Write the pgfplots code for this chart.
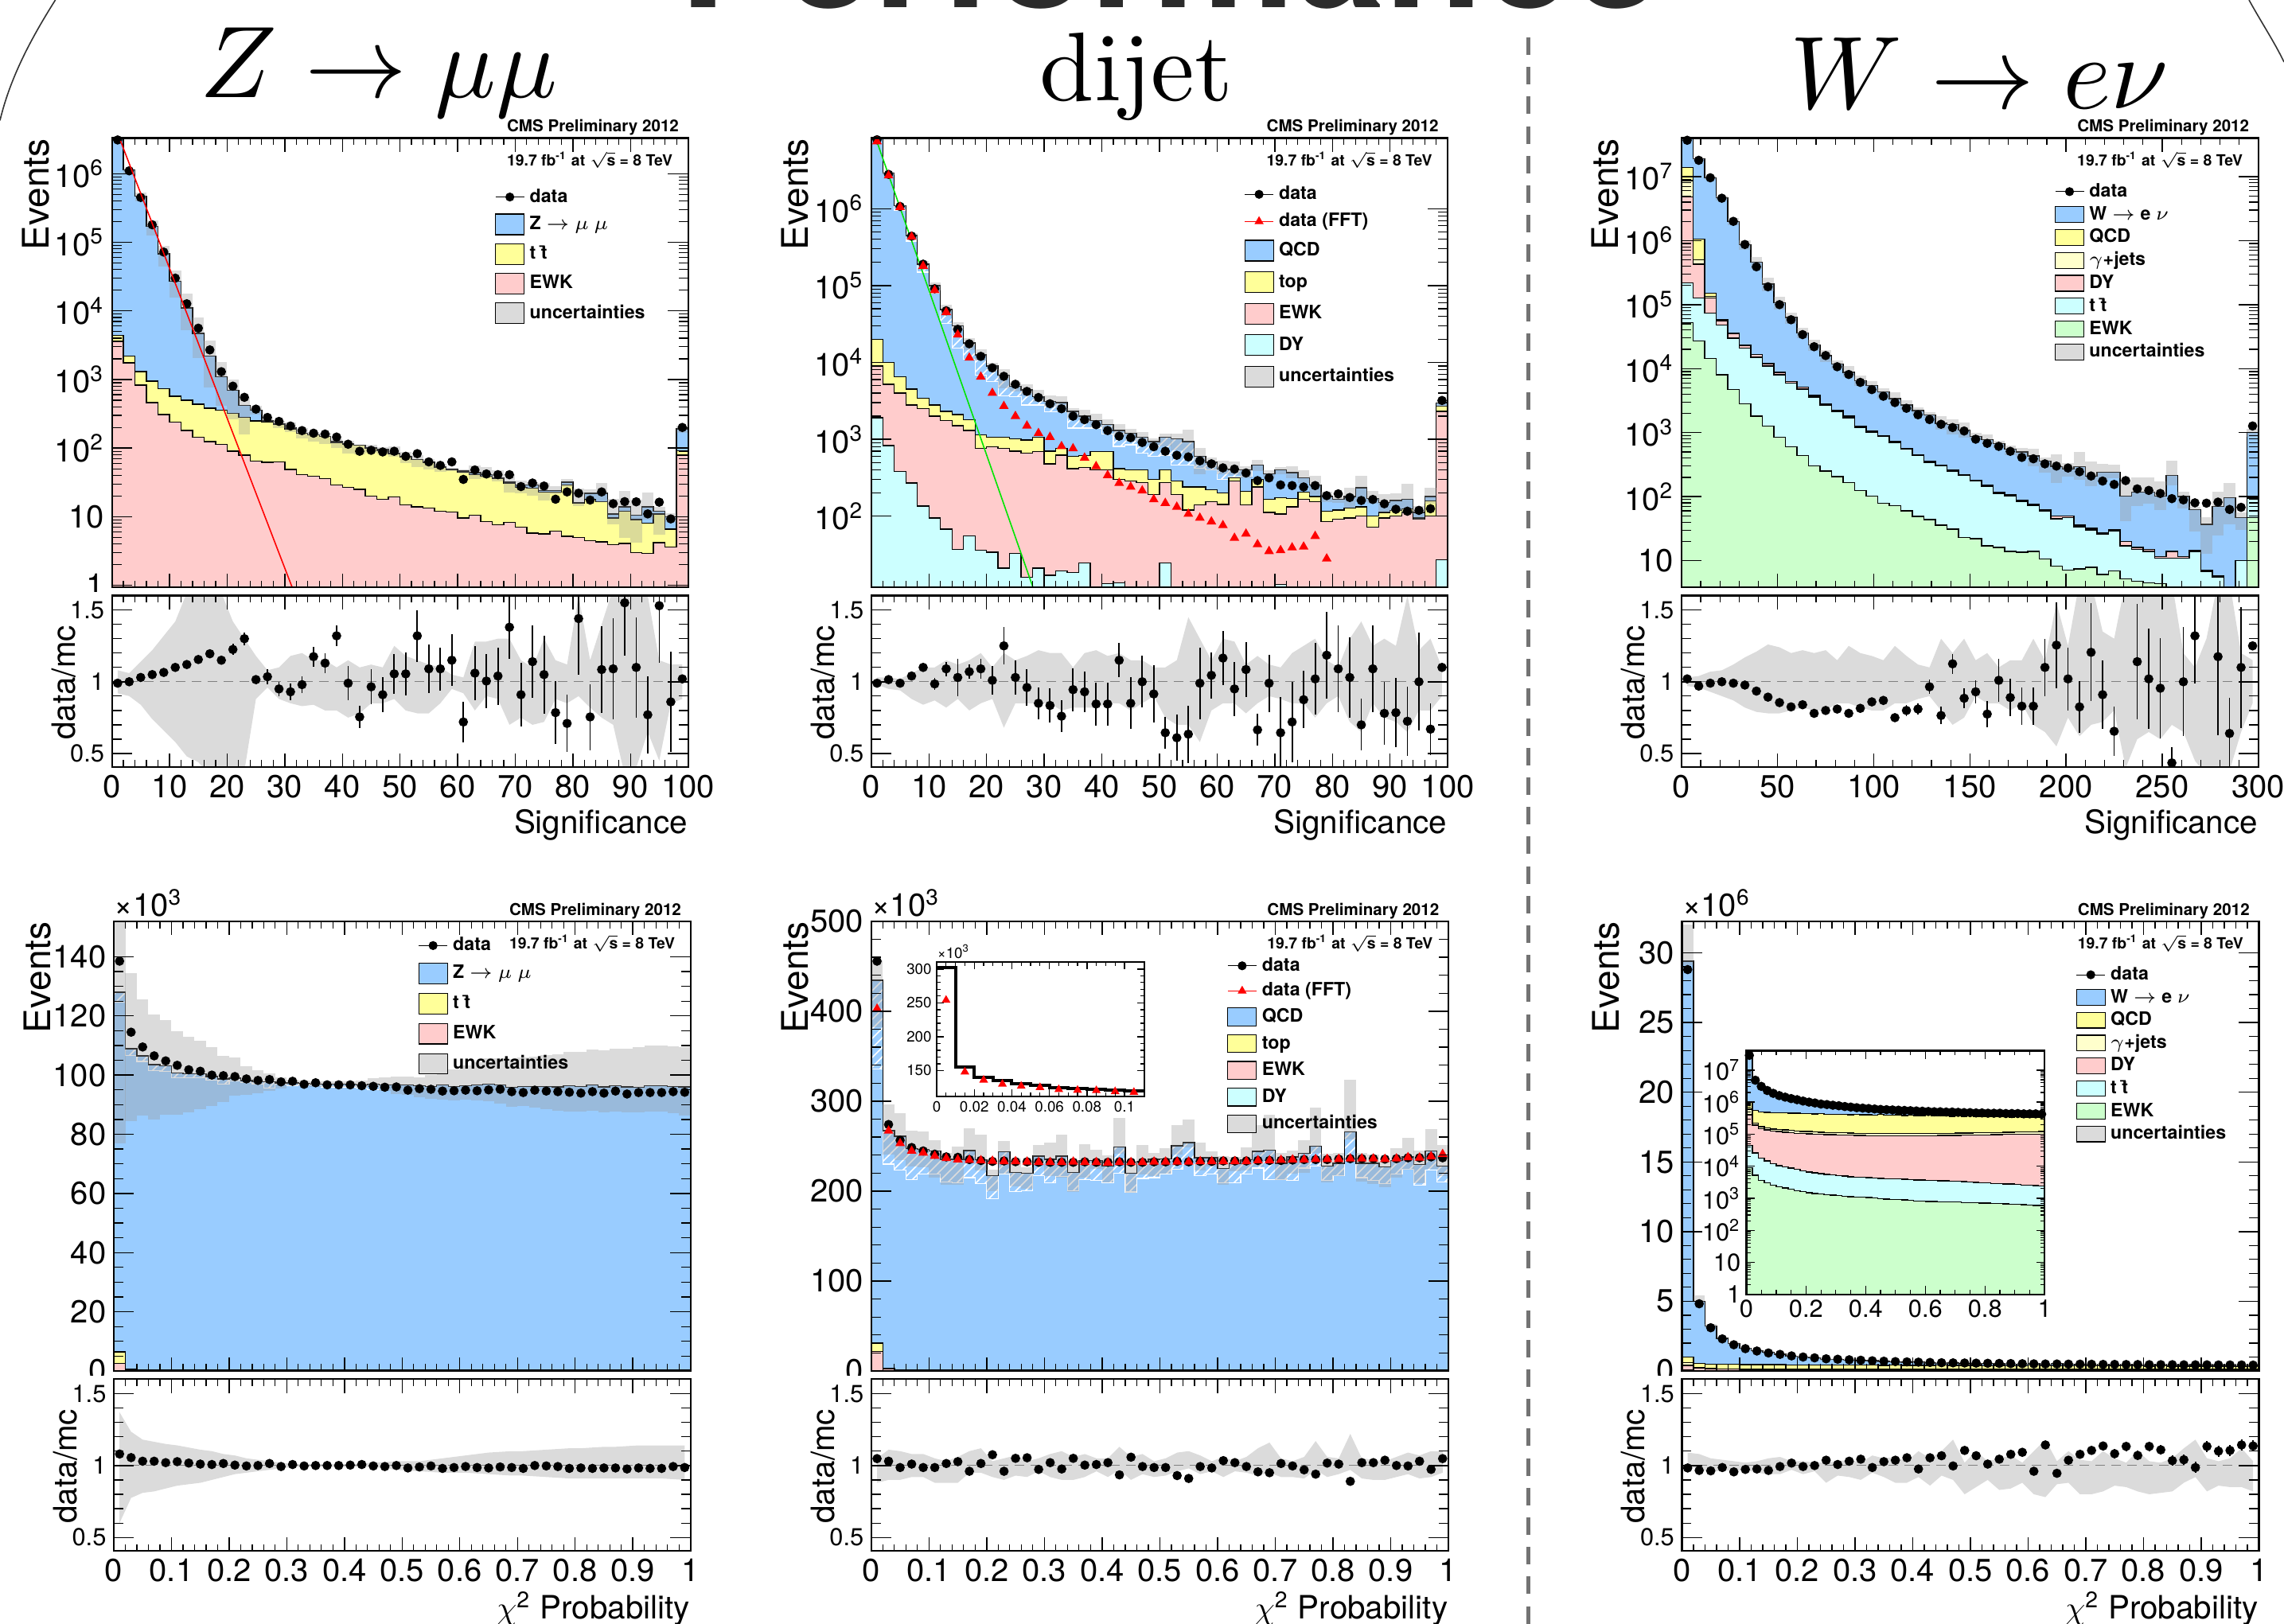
\documentclass[border=0pt]{standalone}
\usepackage{fontspec}
\usepackage{pgfplots}
\usepackage{pgfplotstable}
\pgfplotsset{compat=1.18}
\usetikzlibrary{patterns}
\newfontfamily\hv{TeX Gyre Heros}
\newcommand\tk{\hv\fontsize{10}{10.5}\selectfont}
\newcommand\lab{\hv\fontsize{10.1}{11}\selectfont}
\newcommand\evt{\hv\fontsize{11.5}{12}\selectfont}
\newcommand\leg{\hv\bfseries\fontsize{5.8}{6.5}\selectfont}
\newcommand\cms{\hv\bfseries\fontsize{5.15}{5.7}\selectfont}
\newcommand\lumi{\hv\bfseries\fontsize{4.85}{5.4}\selectfont}
\newcommand\sm{\hv\fontsize{4.7}{5.2}\selectfont}
\newcommand\smm{\hv\fontsize{7.7}{8.2}\selectfont}
\definecolor{cB}{HTML}{99CCFF}\definecolor{cY}{HTML}{FFFF99}\definecolor{cP}{HTML}{FFCCCC}
\definecolor{cC}{HTML}{CCFFFF}\definecolor{cG}{HTML}{CCFFCC}\definecolor{cL}{HTML}{FFFFCC}
\def\legh{3.25pt}
\pgfplotsset{
 base/.style={scale only axis,anchor=south west,axis on top,enlargelimits=false,clip mode=individual,log origin=infty,
  tick align=inside,xtick pos=both,ytick pos=both,
  axis line style={line width=.55pt},tick style={black,line width=.35pt},
  xtick style={/pgfplots/major tick length=4.3pt,/pgfplots/minor tick length=2.2pt},
  ytick style={/pgfplots/major tick length=6.3pt,/pgfplots/minor tick length=3pt},
  minor tick style={black,line width=.3pt},
  tick label style={font=\tk,inner sep=2.2pt},
  label style={font=\lab},
  scaled ticks=false},
 mainax/.style={base,xticklabels={},
  ylabel={\evt Events},y label style={at={(axis description cs:-0.107,1)},anchor=south east,inner sep=0pt}},
 ratioax/.style={base,ymin=.405,ymax=1.6,ytick={.5,1,1.5},yticklabels={0.5,1,1.5},
  yticklabel style={font=\smm},
  minor ytick={.6,.7,.8,.9,1.1,1.2,1.3,1.4},
  ylabel={data/mc},y label style={at={(axis description cs:-0.062,.83)},anchor=south east,inner sep=0pt},
  x label style={at={(axis description cs:1,-.335)},anchor=east,inner sep=0pt}},
 xsig/.style={xmin=0,xmax=100,xtick={0,10,...,100},minor xtick={2,4,6,8,12,14,16,18,22,24,26,28,32,34,36,38,42,44,46,48,52,54,56,58,62,64,66,68,72,74,76,78,82,84,86,88,92,94,96,98}},
 xsigw/.style={xmin=0,xmax=300,xtick={0,50,...,300},minor xtick={10,20,30,40,60,70,80,90,110,120,130,140,160,170,180,190,210,220,230,240,260,270,280,290}},
 xprob/.style={xmin=0,xmax=1,xtick={0,.1,.2,.3,.4,.5,.6,.7,.8,.9,1},minor xtick={.02,.04,.06,.08,.12,.14,.16,.18,.22,.24,.26,.28,.32,.34,.36,.38,.42,.44,.46,.48,.52,.54,.56,.58,.62,.64,.66,.68,.72,.74,.76,.78,.82,.84,.86,.88,.92,.94,.96,.98}},
 xproblab/.style={xticklabels={0,0.1,0.2,0.3,0.4,0.5,0.6,0.7,0.8,0.9,1}},
 legst/.style={legend cell align=left,legend style={draw=none,fill=none,inner sep=0pt,outer sep=0pt,font=\leg,
   anchor=north west,row sep=#1,nodes={inner ysep=0pt,inner xsep=1.6pt,text height=4.3pt,text depth=1.1pt}}},
 boxleg/.style={legend image code/.code={\draw[##1,line width=.3pt] (0pt,-\legh) rectangle (9pt,\legh);}},
 ptleg/.style={legend image code/.code={\draw[##1,mark repeat=2,mark phase=2] plot coordinates {(0pt,0pt)(4.5pt,0pt)(9pt,0pt)};}},
}
\colorlet{bandc}{black!40}
\colorlet{bandl}{black!14}
\newcommand\hist[3]{\addplot[const plot mark left,fill=#3,draw=black,line width=.35pt,forget plot] table[x=xl,y=#2]{#1} \closedcycle;}
% uncertainty band of the stack: bars as wide as a bin, from mc*lo to mc*hi
\newcommand\mband[2]{%
 \addplot[draw=none,mark=none,forget plot,skip coords between index={50}{51},
  error bars/.cd,y dir=both,y explicit,error mark=none,error bar style={line width=3.63pt,draw=bandc,draw opacity=.35}]
  table[x expr=\thisrow{xl}+#2,y=mc,y error plus expr=\thisrow{mc}*(\thisrow{hi}-1),y error minus expr=\thisrow{mc}*(1-\thisrow{lo})]{#1};}
% white hatch between the stack and its lower edge
\newcommand\hatchb[1]{%
 \addplot[const plot mark left,pattern=north east lines,pattern color=white,draw=none,forget plot] table[x=xl,y=mc]{#1} \closedcycle;
 \addplot[const plot mark left,fill=cB,draw=white,line width=.3pt,forget plot] table[x=xl,y=hat]{#1} \closedcycle;
 \addplot[const plot mark left,draw=black,line width=.35pt,forget plot] table[x=xl,y=mc]{#1};}
\newcommand\dataplot[3]{\addplot[only marks,mark=*,mark size=1.25pt,black,forget plot,skip coords between index={50}{51}] table[x expr=\thisrow{xl}+#2,y=#3]{#1};}
\newcommand\fftplot[3]{\addplot[only marks,mark=triangle*,mark size=1.35pt,red,forget plot,skip coords between index={50}{51}] table[x expr=\thisrow{xl}+#2,y=#3]{#1};}
\newcommand\ratioplots[3]{%
 \addplot[stack plots=y,draw=none,forget plot,skip coords between index={50}{51}] table[x expr=\thisrow{xl}+#2,y=lo]{#1};
 \addplot[stack plots=y,fill=bandc,fill opacity=.35,draw=none,forget plot,skip coords between index={50}{51}] table[x expr=\thisrow{xl}+#2,y expr=\thisrow{hi}-\thisrow{lo}]{#1} \closedcycle;
 \addplot[gray,densely dashed,line width=.3pt,forget plot] coordinates {(0,1)(#3,1)};
 \addplot[only marks,mark=*,mark size=1.25pt,black,forget plot,skip coords between index={50}{51},
   error bars/.cd,y dir=both,y explicit,error mark=none,error bar style={line width=.45pt}] table[x expr=\thisrow{xl}+#2,y=r,y error=e]{#1};}
\newcommand\cmslabel{%
 \node[anchor=south east,inner sep=0pt,font=\cms] at (rel axis cs:.985,1.004) {CMS Preliminary 2012};
 \node[anchor=east,inner sep=0pt,font=\lumi] at (rel axis cs:.974,.951) {19.7 fb\textsuperscript{-1} at $\sqrt{\mbox{s}}$ = 8 TeV};}

\pgfplotstableread{
xl d mc t ew r e hi lo
0 3.1e6 3.5e6 4.4e3 3.6e3 .99 .005 1.08 .92
2 1.1e6 1.13e6 2.2e3 1.75e3 1.0 .005 1.06 .90
4 4.5e5 4.7e5 1.3e3 830 1.03 .005 1.14 .84
6 1.8e5 1.7e5 950 460 1.05 .005 1.22 .74
8 7.2e4 6.8e4 730 310 1.065 .01 1.32 .66
10 3e4 2.7e4 570 240 1.10 .01 1.42 .58
12 1.27e4 1.1e4 500 180 1.12 .01 1.62 .48
14 5.6e3 4.7e3 435 145 1.155 .015 1.7 .44
16 2.7e3 2.2e3 380 125 1.195 .02 1.7 .35
18 1.3e3 1.1e3 360 113 1.15 .03 1.62 .38
20 800 700 320 90 1.225 .04 1.42 .38
22 550 420 280 79 1.30 .045 1.3 .38
24 370 355 250 65 1.015 .03 1.18 .88
26 280 250 240 62 1.035 .05 1.08 .96
28 245 225 225 63 .95 .05 1.1 .88
30 210 200 190 49 .93 .06 1.18 .85
32 180 165 165 41 .98 .06 1.2 .83
34 165 150 155 39 1.175 .07 1.15 .84
36 160 145 148 36 1.13 .07 1.15 .8
38 145 125 120 29 1.32 .07 1.1 .8
40 114 110 115 27 .99 .12 1.15 .75
42 90 103 110 25 .755 .08 1.1 .78
44 93 100 100 20 .965 .12 1.12 .85
46 88 95 91 18 .91 .12 1.1 .85
48 90 85 83 19.5 1.055 .14 1.25 .88
50 76 75 75 15 1.055 .15 1.18 .8
52 83 68 68 14 1.32 .18 1.15 .78
54 63 62 62 13.3 1.09 .17 1.12 .78
56 56 53 53 12 1.09 .15 1.1 .85
58 63 49 49 11.8 1.15 .18 1.05 .95
60 35 47 45 9.6 .72 .14 1.03 .92
62 48 44 41 10.5 1.06 .19 1.28 .8
64 42 41 39 8.5 1.005 .19 1.28 .9
66 41 37 36 7.6 1.04 .2 1.3 .88
68 41 32 31 8.3 1.38 .22 1.3 .7
70 27.5 29 27 7 .91 .22 1.15 .75
72 31 29 26 5.8 1.14 .25 1.1 .7
74 28 24 23 5.6 1.05 .27 1.3 .72
76 18 24 23 6.2 .785 .22 1.15 .88
78 23 32 29 5.2 .71 .2 1.12 .85
80 22 16 16 5 1.44 .39 1.6 .9
82 17.5 22 18 4.5 .755 .23 1.15 .82
84 23 22 16.5 4.3 1.085 .3 1.4 .75
86 15.5 11 9.6 3.9 1.09 .35 1.65 .7
88 16.6 14 12 4.1 1.55 .37 1.7 .35
90 16.5 10.5 9.1 3 1.10 .35 1.7 .4
92 11 14 8 2.9 .77 .27 1.6 .65
94 16.3 12 11 4.2 1.53 .4 1.15 .45
96 9.3 10 6.6 3.6 .86 .35 1.12 .85
98 200 190 91 79 1.02 .01 1.12 .88
100 200 190 91 79 1.02 .01 1.12 .88
}\tA

\pgfplotstableread{
xl d f mc hat t ew dy r e hi lo
0 7.9e6 7.5e6 9e6 9e6 2e4 9e3 1.9e3 .99 .005 1.03 .98
2 2.8e6 2.7e6 2.9e6 2.9e6 1e4 5.2e3 830 1.015 .01 1.03 .95
4 1.07e6 1.05e6 1.1e6 9.6e5 6.5e3 4e3 380 .99 .01 1.02 .94
6 4.4e5 4.3e5 4.5e5 3.8e5 4.5e3 2.8e3 270 1.04 .01 1.06 .88
8 1.9e5 1.8e5 1.9e5 1.5e5 3.4e3 2.5e3 135 1.10 .02 1.1 .84
10 9.1e4 8.7e4 1e5 8e4 2.8e3 2e3 95 .985 .04 1.1 .87
12 4.7e4 4.5e4 4.9e4 3.2e4 2.3e3 1.75e3 68 1.09 .05 1.15 .82
14 2.7e4 2.3e4 3e4 1.55e4 2.1e3 1.5e3 37 1.03 .13 1.12 .88
16 1.75e4 1.15e4 1.8e4 1.1e4 1.8e3 1.3e3 55 1.07 .05 1.15 .8
18 1.2e4 6.5e3 1.25e4 6.8e3 1.15e3 760 36 1.09 .07 1.2 .85
20 8.5e3 4e3 9e3 5.7e3 1.07e3 800 34 1.01 .1 1.1 .88
22 6.6e3 2.7e3 6.8e3 3.7e3 1.07e3 760 21 1.25 .13 1.2 .68
24 5.2e3 2e3 4.9e3 3.6e3 1.02e3 700 33 1.03 .12 1.15 .85
26 4.2e3 1.5e3 4.4e3 2.8e3 980 660 16 .96 .13 1.18 .85
28 3.5e3 1.2e3 3.6e3 2.8e3 1.07e3 690 21 .85 .11 1.22 .85
30 2.9e3 1.07e3 3.1e3 2.3e3 700 480 17 .835 .12 1.2 .85
32 2.5e3 810 3e3 2.3e3 760 620 19.5 .76 .11 1.2 .8
34 2e3 760 2.3e3 1.4e3 600 415 18.5 .945 .15 1.1 .82
36 1.8e3 575 2e3 1.4e3 615 430 24.5 .93 .14 1.2 .82
38 1.55e3 445 1.75e3 1.4e3 690 400 5 .845 .15 1.22 .82
40 1.3e3 340 1.55e3 1.17e3 690 400 13.2 .845 .15 1.18 .85
42 1.1e3 270 1.3e3 810 415 300 13.6 1.15 .12 1.2 .85
44 1.05e3 240 1.2e3 850 400 285 5 .85 .18 1.15 .8
46 910 215 1.07e3 660 400 275 12 1.0 .18 1.15 .85
48 800 165 930 600 300 190 5 .915 .2 1.1 .9
50 700 148 1.07e3 610 400 275 24.5 .645 .11 1.1 .75
52 620 132 1.02e3 460 285 190 5 .61 .16 1.15 .7
54 590 107 930 460 240 120 5 .635 .2 1.45 .7
56 525 95 600 420 240 140 5 .99 .25 1.3 .58
58 480 85 500 400 220 155 5 1.045 .16 1.15 .8
60 425 76 410 300 200 142 5 1.165 .19 1.3 .85
62 410 52 400 325 315 285 5 .95 .19 1.28 .85
64 365 59 400 330 210 140 5 1.085 .19 1.12 .78
66 290 43 460 460 300 240 5 .665 .11 1.18 .85
68 315 35 355 355 165 112 5 .99 .2 1.12 .9
70 255 36 400 400 175 107 13 .645 .25 1.1 .88
72 250 39 370 370 170 132 5 .72 .28 1.2 .85
74 240 40 315 315 205 165 5 .875 .2 1.25 .85
76 250 55 255 255 180 155 5 1.02 .25 1.3 .75
78 185 28 180 180 116 85 5 1.185 .3 1.15 .85
80 195 nan 165 165 120 91 5 1.09 .3 1.1 .9
82 175 nan 180 180 128 95 5 1.03 .28 1.3 .72
84 160 nan 235 235 132 100 5 .70 .18 1.42 .65
86 165 nan 170 170 100 72 5 1.09 .3 1.25 .85
88 145 nan 150 150 112 95 5 .78 .22 1.3 .75
90 123 nan 160 160 118 100 5 .785 .24 1.25 .72
92 116 nan 165 165 125 112 5 .725 .24 1.6 .65
94 119 nan 112 112 95 91 5 1.0 .34 1.22 .8
96 125 nan 180 180 158 100 5 .67 .18 1.3 .8
98 3.2e3 nan 2.95e3 2.95e3 2.7e3 2.3e3 27 1.10 .005 1.1 .9
100 3.2e3 nan 2.95e3 2.95e3 2.7e3 2.3e3 27 1.10 .005 1.1 .9
}\tB

\pgfplotstableread{
xl d mc q g dy tt ew r e hi lo
0 3.7e7 4.2e7 1.4e7 8.7e6 4.8e6 2.2e5 5.2e4 1.02 .005 1.03 .97
6 1.8e7 1.9e7 1.06e6 5e5 4.3e5 1.27e5 2.7e4 .97 .005 1.04 .96
12 9.6e6 9.6e6 1.5e5 1.35e5 1.27e5 7.4e4 1.45e4 .99 .005 1.07 .93
18 4.6e6 4.7e6 5.8e4 5.6e4 5.5e4 4.8e4 8e3 1.0 .005 1.08 .9
24 2e6 2e6 3.6e4 3.55e4 3.5e4 3e4 4.7e3 .99 .005 1.12 .87
30 8.7e5 8.7e5 2.3e4 2.3e4 2.3e4 2.1e4 2.8e3 .977 .005 1.17 .82
36 3.9e5 4.6e5 1.65e4 1.65e4 1.65e4 1.5e4 1.8e3 .935 .005 1.21 .79
42 1.9e5 2.1e5 1.2e4 1.2e4 1.2e4 1.1e4 1.27e3 .893 .005 1.26 .78
48 1e5 1.07e5 8.7e3 8.7e3 8.7e3 8e3 850 .855 .005 1.24 .78
54 5.8e4 6.3e4 6.3e3 6.3e3 6.3e3 5.9e3 600 .825 .01 1.2 .8
60 3.4e4 3.6e4 5.1e3 5.1e3 5.1e3 4.8e3 440 .84 .01 1.22 .82
66 2.2e4 2.35e4 3.8e3 3.8e3 3.8e3 3.6e3 300 .78 .01 1.2 .8
72 1.6e4 1.6e4 2.8e3 2.8e3 2.8e3 2.7e3 250 .80 .01 1.22 .8
78 1.07e4 1.17e4 2.2e3 2.2e3 2.2e3 2.1e3 205 .81 .015 1.15 .85
84 8.1e3 8.7e3 1.8e3 1.8e3 1.8e3 1.7e3 167 .78 .015 1.25 .85
90 6.1e3 6.5e3 1.25e3 1.25e3 1.25e3 1.2e3 125 .815 .02 1.2 .82
96 4.7e3 5.4e3 1.05e3 1.05e3 1.05e3 1e3 102 .86 .02 1.18 .8
102 3.7e3 4.3e3 900 900 900 870 79 .87 .03 1.15 .8
108 2.95e3 3.4e3 730 730 730 700 72 .75 .03 1.25 .85
114 2.4e3 2.7e3 570 570 570 550 60 .80 .04 1.18 .85
120 1.9e3 2.2e3 455 455 455 440 49 .81 .04 1.12 .88
126 1.6e3 1.9e3 355 355 355 340 44 .965 .05 1.1 .9
132 1.35e3 1.4e3 310 310 310 300 36 .765 .06 1.3 .8
138 1.2e3 1.35e3 260 260 260 250 31 1.125 .07 1.2 .7
144 1.06e3 1.1e3 222 222 222 215 23 .885 .07 1.3 .75
150 790 870 182 182 182 175 22 .93 .08 1.15 .9
156 680 780 150 150 150 145 17 .775 .09 1.2 .85
162 610 670 116 116 116 112 16 1.01 .15 1.1 .85
168 510 550 106 106 106 102 14 .89 .13 1.15 .8
174 410 500 88 88 88 85 13.5 .83 .13 1.15 .85
180 390 430 75 75 75 72 14 .83 .13 1.3 .7
186 325 360 62 62 62 60 10.6 1.10 .2 1.15 .65
192 300 295 50 50 50 45 8.2 1.255 .3 1.55 .55
198 280 270 50 50 50 47 7.1 1.02 .22 1.25 .75
204 245 295 36 36 36 34 7.4 .825 .18 1.7 .62
210 210 210 32 32 32 30 7.9 1.205 .34 1.7 .7
216 175 240 27 27 27 26 6.1 .91 .24 1.35 .72
222 155 240 30 30 30 29 6.9 .655 .17 1.3 .8
228 178 102 20 20 20 17 5.2 nan .1 1.7 .4
234 132 118 16 16 16 15 4.8 1.14 .4 1.7 .6
240 125 118 15 15 15 14 4.5 1.02 .35 1.7 .65
246 112 102 11.5 11.5 11.5 11 4.4 .955 .35 1.7 .6
252 93 215 14 14 14 11 3 .435 .11 1.7 .7
258 89 100 11.5 11.5 11.5 11 3 1.0 .38 1.2 .65
264 80 63 14.5 14.5 14.5 14 3 1.32 .33 1.1 .45
270 79 37 7 7 7 6.8 3 nan .1 1.3 .35
276 82 70 5.7 5.7 5.7 5.6 3 1.175 .55 1.7 .35
282 63 96 3 3 3 3 3 .64 .25 1.7 .38
288 68 47 10 10 10 10 3 1.1 .42 1.2 .65
294 1.27e3 1e3 100 100 100 95 47 1.25 .01 1.15 .85
300 1.27e3 1e3 100 100 100 95 47 1.25 .01 1.15 .85
}\tC

\pgfplotstableread{
xl d mc hat t ew r e hi lo
0 138.5 128 124.7 6.5 2.5 1.08 .002 1.37 .6
.02 114.5 108.9 106.7 .5 .2 1.055 .002 1.235 .775
.04 109.5 106.5 104.6 .3 .1 1.03 .002 1.18 .81
.06 106.5 103.5 101.6 .3 .1 1.03 .002 1.165 .82
.08 104.8 103.2 101.3 .3 .1 1.02 .002 1.15 .84
.10 103.3 100.7 99 .3 .1 1.027 .002 1.14 .86
.12 101.8 100.5 99 .3 .1 1.017 .002 1.125 .87
.14 101.3 100.5 99 .3 .1 1.01 .002 1.11 .88
.16 100 99.5 98.2 .3 .1 1.007 .002 1.1 .9
.18 99.8 98.7 97 .3 .1 1.014 .002 1.08 .92
.20 99.5 99 98 .3 .1 1.003 .002 1.07 .94
.22 98.7 98.2 97.5 .3 .1 .997 .002 1.05 .95
.24 98.2 97.7 97 .3 .1 1 .002 1.04 .96
.26 98.5 97.7 95.5 .3 .1 1.014 .002 1.03 .97
.28 97.7 97.4 97 .3 .1 .993 .002 1.02 .98
.30 97.9 97.4 96.5 .3 .1 1.007 .002 1.01 .99
.32 96.9 97.2 96.8 .3 .1 .997 .002 1.01 .99
.34 97.4 96.9 96.6 .3 .1 1 .002 1.01 .99
.36 96.7 96.9 96 .3 .1 1 .002 1.01 .99
.38 96.7 96.9 96 .3 .1 1 .002 1.01 .99
.40 96.7 96.9 96 .3 .1 1.003 .002 1.01 .99
.42 96.4 96.7 95.5 .3 .1 1.007 .002 1.015 .99
.44 96.2 96.9 95 .3 .1 .997 .002 1.02 .99
.46 95.9 96.7 96.7 .3 .1 .993 .002 1.025 .98
.48 96 96.6 96.6 .3 .1 1 .002 1.03 .97
.50 94.9 96.6 96.6 .3 .1 .983 .002 1.03 .965
.52 95.4 96.4 96.4 .3 .1 .99 .002 1.03 .96
.54 95.2 96.2 96.2 .3 .1 .997 .002 1.04 .955
.56 94.6 96.6 96.6 .3 .1 .98 .002 1.05 .95
.58 94.7 96.2 96.2 .3 .1 .986 .002 1.06 .95
.60 94.9 96.4 96.4 .3 .1 .993 .002 1.07 .95
.62 94.7 96.7 96.7 .3 .1 .986 .002 1.08 .945
.64 95 96.9 96.9 .3 .1 .983 .002 1.09 .94
.66 95.2 96.6 96.6 .3 .1 .99 .002 1.095 .935
.68 94.4 95.9 95.9 .3 .1 .986 .002 1.1 .93
.70 94.1 96.2 96.2 .3 .1 .98 .002 1.1 .93
.72 94.9 96.2 96.2 .3 .1 1 .002 1.105 .925
.74 94.6 96.2 96.2 .3 .1 .997 .002 1.11 .92
.76 94.4 96 96 .3 .1 .993 .002 1.115 .915
.78 94.2 96.4 96.4 .3 .1 .98 .002 1.12 .91
.80 93.9 96.2 96.2 .3 .1 .983 .002 1.12 .91
.82 94.4 96.6 96.6 .3 .1 .98 .002 1.125 .91
.84 93.9 96 96 .3 .1 .983 .002 1.13 .91
.86 94.6 96.4 96.4 .3 .1 .983 .002 1.13 .91
.88 93.6 96 96 .3 .1 .976 .002 1.135 .91
.90 94.1 95.9 95.9 .3 .1 .983 .002 1.14 .91
.92 94.1 96.4 96.4 .3 .1 .98 .002 1.14 .91
.94 94.1 96.4 96.4 .3 .1 .98 .002 1.14 .91
.96 94.4 96.2 96.2 .3 .1 .993 .002 1.14 .905
.98 94.2 96 96 .3 .1 .986 .002 1.14 .9
1 94.2 96 96 .3 .1 .986 .002 1.14 .9
}\tD

\pgfplotstableread{
xl d f mc hat t ew dy r e hi lo
0 455.6 402.6 434.5 335.5 30.8 21.6 .5 1.048 .015 1.05 .88
.02 274 267 267.3 230 3.2 2.5 .2 1.03 .015 1.11 .9
.04 256.5 253 260.8 223 1.5 1 .1 .986 .02 1.1 .9
.06 248.4 244.6 247.3 213 1 .5 .1 1.01 .02 1.08 .92
.08 244.6 242.5 246.2 218.6 1 .5 .1 .986 .02 1.08 .92
.10 241 239 244.6 219 1 .5 .1 .986 .02 1.05 .88
.12 238 236.5 235.4 210 1 .5 .1 1.014 .02 1.03 .88
.14 237.5 235 235.4 209.4 1 .5 .1 1.027 .02 1.06 .88
.16 235 234.5 245 215 1 .5 .1 .96 .02 1.1 .95
.18 234 234 234.8 208 1 .5 .1 1.014 .02 1.12 .95
.20 233 233.5 217 191.6 1 .5 .1 1.075 .02 1.03 .92
.22 233.5 233 243.5 218.6 1 .5 .1 .96 .02 1.05 .9
.24 232.7 233 220.8 199.7 1 .5 .1 1.05 .02 1.07 .93
.26 232.5 232.5 220 200 1 .5 .1 1.054 .02 1.03 .92
.28 232 232 239 217.5 1 .5 .1 .973 .02 1.05 .96
.30 232 232 235.4 209 1 .5 .1 1.02 .02 1.08 .92
.32 232 232 239 216 1 .5 .1 .976 .02 1.1 .9
.34 232 232.5 220.8 200 1 .5 .1 1.05 .02 1.06 .9
.36 232.5 232 233.8 213 1 .5 .1 1.003 .02 1.08 .92
.38 232 232 233.8 212 1 .5 .1 1.007 .02 1.05 .96
.40 232 231.5 228 209 1 .5 .1 1.02 .02 1.05 .92
.42 232.5 232 249 220 1 .5 .1 .935 .025 1.13 .97
.44 232 232 219.7 199 1 .5 .1 1.058 .02 1.06 .9
.46 232 232 232.7 214 1 .5 .1 .993 .02 1.08 .94
.48 232.5 232.5 235.4 215 1 .5 .1 .986 .02 1.03 .92
.50 232.5 232.5 236 218.6 1 .5 .1 .986 .02 1.05 .93
.52 233 232.5 250.5 224 1 .5 .1 .93 .025 1.09 .96
.54 232.5 232.5 253.8 229.4 1 .5 .1 .91 .025 1.1 .98
.56 233 233 237 217.5 1 .5 .1 .993 .02 1.07 .94
.58 233 233 237 218.6 1 .5 .1 .983 .02 1.03 .96
.60 233.5 233 225 209 1 .5 .1 1.034 .02 1.06 .92
.62 233.5 233 231 209 1 .5 .1 1.02 .02 1.03 .96
.64 233.5 233 234.8 218.6 1 .5 .1 .993 .02 1.06 .95
.66 234 234 244 225.6 1 .5 .1 .956 .025 1.12 .93
.68 234 234 245.7 213 1 .5 .1 .95 .025 1.16 .95
.70 234 234.5 231 213 1 .5 .1 1.014 .02 1.05 .92
.72 234.5 235 238 212 1 .5 .1 .997 .02 1.03 .92
.74 235 235 241.9 225.6 1 .5 .1 .97 .02 1.06 .91
.76 235 235.5 250 228 1 .5 .1 .94 .025 1.17 .97
.78 235 235.5 228 212 1 .5 .1 1.017 .02 1.06 .92
.80 235.5 235.5 231 217.5 1 .5 .1 1.01 .02 1.05 .94
.82 236 236 265.7 233.8 1 .5 .1 .89 .025 1.22 .97
.84 236 236 231 215 1 .5 .1 1.02 .02 1.05 .91
.86 236 236 231 212 1 .5 .1 1.02 .02 1.04 .9
.88 235.5 235.5 226.7 208 1 .5 .1 1.037 .02 1.03 .9
.90 236 236 233.8 218.6 1 .5 .1 1 .02 1.06 .92
.92 237 237.5 238 224 1 .5 .1 .997 .02 1.09 .94
.94 237 237 229.4 206.7 1 .5 .1 1.03 .02 1.07 .91
.96 238 238.5 244.6 223 1 .5 .1 .973 .02 1.1 .92
.98 237 241 228 210 1 .5 .1 1.048 .02 1.1 .95
1 237 241 228 210 1 .5 .1 1.048 .02 1.1 .95
}\tE

\pgfplotstableread{
xl y
0 302
.01 155
.02 140
.03 135
.04 130
.05 128
.06 125
.07 124
.08 122.5
.09 121
.10 120
.11 120
}\tEi
\pgfplotstableread{
x f
.005 254
.015 148
.025 136
.035 130
.045 127
.055 125
.065 122
.075 121
.085 120.5
.095 119
.105 118
}\tEj

\pgfplotstableread{
xl d mc q g dy tt ew r e hi lo
0 28.8 29.4 1.0 .6 .4 .045 .009 .983 .005 1.09 .99
.02 4.82 5.0 .55 .22 .19 .026 .0052 .966 .005 1.08 .98
.04 3.1 3.22 .5 .17 .15 .018 .0036 .963 .005 1.05 .95
.06 2.3 2.33 .48 .155 .135 .0145 .003 .986 .005 1.04 .97
.08 1.88 1.97 .47 .145 .125 .012 .0026 .956 .006 1.03 .96
.10 1.6 1.64 .46 .14 .12 .0105 .0023 .973 .006 1.02 .97
.12 1.43 1.47 .46 .135 .115 .0096 .0021 .976 .007 1.03 .95
.14 1.29 1.34 .45 .13 .11 .0088 .0019 .966 .007 1.05 .94
.16 1.19 1.2 .45 .125 .107 .008 .0017 .993 .008 1.06 .94
.18 1.08 1.06 .44 .122 .105 .0072 .0016 1.017 .008 1.03 .97
.20 1.0 1.01 .44 .12 .103 .0066 .0015 .993 .009 1.03 .94
.22 .94 .94 .43 .118 .101 .0062 .0014 1 .01 1.02 .96
.24 .87 .84 .44 .115 .099 .0058 .00135 1.037 .01 1.02 .88
.26 .84 .83 .42 .113 .097 .0055 .0013 1.007 .011 1.03 .93
.28 .8 .78 .42 .112 .096 .0053 .00125 1.03 .012 1.04 .92
.30 .77 .74 .41 .111 .095 .0051 .0012 1.044 .012 1.02 .9
.32 .73 .74 .42 .11 .094 .0049 .00116 .986 .013 1.07 .95
.34 .7 .68 .40 .108 .093 .0047 .00113 1.027 .014 1.05 .92
.36 .67 .65 .41 .107 .092 .0046 .0011 1.037 .015 1.06 .88
.38 .65 .62 .40 .106 .091 .0045 .00107 1.054 .016 1.03 .88
.40 .63 .65 .40 .105 .09 .0044 .00105 .976 .017 1.1 .92
.42 .61 .58 .39 .105 .09 .0043 .00102 1.054 .018 1.05 .86
.44 .59 .55 .41 .105 .09 .0042 .00098 1.068 .02 1.1 .93
.46 .58 .58 .39 .104 .09 .0041 .00095 .997 .02 1.18 .9
.48 .57 .52 .39 .104 .09 .004 .00092 1.105 .02 1.02 .8
.50 .56 .52 .40 .104 .09 .004 .0009 1.068 .022 1.1 .85
.52 .55 .54 .38 .104 .09 .0039 .00088 1.01 .022 1.03 .9
.54 .54 .52 .39 .104 .09 .0038 .00085 1.044 .024 1.05 .83
.56 .53 .49 .38 .105 .09 .0037 .00083 1.078 .024 1.07 .84
.58 .52 .48 .38 .105 .09 .0037 .00081 1.092 .025 1.02 .88
.60 .51 .53 .42 .105 .09 .0036 .0008 .96 .026 1.1 .8
.62 .5 .44 .37 .105 .09 .0036 .00079 1.143 .027 1.18 .78
.64 .5 .53 .37 .106 .091 .0035 .00078 .946 .028 1.03 .87
.66 .49 .47 .38 .106 .091 .0035 .00077 1.037 .028 1.1 .88
.68 .49 .45 .36 .107 .092 .0034 .00076 1.078 .03 1.04 .8
.70 .48 .43 .37 .108 .092 .0034 .00076 1.105 .03 1.03 .8
.72 .47 .41 .36 .108 .093 .0033 .00074 1.136 .03 1.1 .82
.74 .47 .43 .37 .109 .094 .0032 .00073 1.082 .032 1.05 .86
.76 .46 .41 .36 .11 .094 .0031 .00072 1.133 .032 1.02 .85
.78 .46 .43 .36 .11 .095 .003 .00071 1.07 .033 1.1 .82
.80 .45 .40 .35 .111 .095 .003 .0007 1.133 .034 1.03 .8
.82 .45 .41 .36 .112 .096 .0029 .00069 1.109 .035 1.02 .81
.84 .45 .44 .35 .113 .097 .0029 .00068 1.034 .036 1.05 .82
.86 .44 .42 .35 .114 .098 .0028 .00067 1.04 .036 1.12 .88
.88 .44 .45 .34 .115 .098 .0028 .00066 .986 .038 1.18 .92
.90 .44 .39 .35 .116 .099 .0027 .00065 1.133 .038 1.05 .82
.92 .43 .39 .34 .117 .1 .0026 .00063 1.1 .04 1.03 .86
.94 .43 .39 .34 .118 .1 .0026 .00062 1.105 .04 1.05 .85
.96 .43 .38 .33 .119 .1 .0025 .0006 1.143 .04 1.12 .85
.98 .42 .37 .33 .12 .1 .0024 .00059 1.136 .04 1.03 .82
1 .42 .37 .33 .12 .1 .0024 .00059 1.136 .04 1.03 .82
}\tF

\begin{document}
\begin{tikzpicture}
\clip (0,0) rectangle (717.5pt,510.25pt);
\path[use as bounding box] (0,0) rectangle (717.5pt,510.25pt);
% decoration
\node[anchor=base,inner sep=0pt,text=black!83] at (367.75pt,507.9pt) {\hv\bfseries\fontsize{50.5}{51}\selectfont Performance};
\draw[black!80,line width=.4pt] (17.4pt,510.25pt) .. controls (9pt,497pt) and (3pt,485pt) .. (0pt,472.4pt);
\draw[black!80,line width=.4pt] (706.5pt,510.25pt) .. controls (710.5pt,503pt) and (714.5pt,497pt) .. (717.5pt,490.75pt);
\draw[black!55,line width=1.25pt,dash pattern=on 5.5pt off 3.8pt] (480.15pt,498.5pt) -- (480.15pt,0pt);
\node[anchor=base,scale=3.2,inner sep=0pt] at (119pt,479.6pt) {$Z\rightarrow\mu\mu$};
\node[anchor=base,scale=3.07,inner sep=0pt] at (357pt,478.7pt) {dijet};
\node[anchor=base,scale=3.25,inner sep=0pt] at (621.8pt,476.1pt) {$W\rightarrow e\nu$};

% ---------- P1
\def\legh{3.25pt}
\begin{axis}[mainax,xsig,at={(35.15pt,325.65pt)},width=181pt,height=141.2pt,ymode=log,ymin=.93,ymax=3.3e6,
 ytick={1,10,100,1e3,1e4,1e5,1e6},yticklabels={1,10,10\textsuperscript{2},10\textsuperscript{3},10\textsuperscript{4},10\textsuperscript{5},10\textsuperscript{6}},
 legst=2.5pt,legend style={at={(rel axis cs:.665,.888)}}]
\addlegendimage{ptleg,black,mark=*,mark size=1.25pt,line width=.3pt}\addlegendentry{data}
\addlegendimage{boxleg,fill=cB}\addlegendentry{Z $\rightarrow$ $\mu$ $\mu$}
\addlegendimage{boxleg,fill=cY}\addlegendentry{t\ \={t}}
\addlegendimage{boxleg,fill=cP}\addlegendentry{EWK}
\addlegendimage{boxleg,fill=bandl}\addlegendentry{uncertainties}
\hist{\tA}{mc}{cB}\hist{\tA}{t}{cY}\hist{\tA}{ew}{cP}
\mband{\tA}{1}
\dataplot{\tA}{1}{d}
\addplot[red,line width=.4pt,forget plot] coordinates {(1.5,3e6)(31.3,.93)};
\cmslabel
\end{axis}
\fill[white] (8pt,324.15pt) rectangle (34.9pt,318pt);
\begin{axis}[ratioax,xsig,at={(35.15pt,269.2pt)},width=181pt,height=53.9pt,
 xticklabels={0,10,20,30,40,50,60,70,80,90,100},xlabel={Significance}]
\ratioplots{\tA}{1}{100}
\end{axis}

% ---------- P2
\def\legh{3.25pt}
\begin{axis}[mainax,xsig,at={(273.7pt,325.65pt)},width=181.1pt,height=141.2pt,ymode=log,ymin=11.8,ymax=8.3e6,
 ytick={100,1e3,1e4,1e5,1e6},yticklabels={10\textsuperscript{2},10\textsuperscript{3},10\textsuperscript{4},10\textsuperscript{5},10\textsuperscript{6}},
 legst=3.1pt,legend style={at={(rel axis cs:.647,.894)}}]
\addlegendimage{ptleg,black,mark=*,mark size=1.25pt,line width=.3pt}\addlegendentry{data}
\addlegendimage{ptleg,red,mark=triangle*,mark size=1.35pt,line width=.3pt}\addlegendentry{data (FFT)}
\addlegendimage{boxleg,fill=cB}\addlegendentry{QCD}
\addlegendimage{boxleg,fill=cY}\addlegendentry{top}
\addlegendimage{boxleg,fill=cP}\addlegendentry{EWK}
\addlegendimage{boxleg,fill=cC}\addlegendentry{DY}
\addlegendimage{boxleg,fill=bandl}\addlegendentry{uncertainties}
\hist{\tB}{mc}{cB}
\hatchb{\tB}
\hist{\tB}{t}{cY}\hist{\tB}{ew}{cP}\hist{\tB}{dy}{cC}
\mband{\tB}{1}
\addplot[green!90!black,line width=.4pt,forget plot] coordinates {(1,7.4e6)(28.2,11)};
\dataplot{\tB}{1}{d}
\fftplot{\tB}{1}{f}
\cmslabel
\end{axis}
\begin{axis}[ratioax,xsig,at={(273.7pt,269.2pt)},width=181.1pt,height=53.9pt,
 xticklabels={0,10,20,30,40,50,60,70,80,90,100},xlabel={Significance}]
\ratioplots{\tB}{1}{100}
\end{axis}

% ---------- P3
\def\legh{2.5pt}
\begin{axis}[mainax,xsigw,at={(528.2pt,325.65pt)},width=181.25pt,height=141.2pt,ymode=log,ymin=3.8,ymax=4e7,
 ytick={10,100,1e3,1e4,1e5,1e6,1e7},yticklabels={10,10\textsuperscript{2},10\textsuperscript{3},10\textsuperscript{4},10\textsuperscript{5},10\textsuperscript{6},10\textsuperscript{7}},
 legst=1.8pt,legend style={at={(rel axis cs:.647,.9)}}]
\addlegendimage{ptleg,black,mark=*,mark size=1.25pt,line width=.3pt}\addlegendentry{data}
\addlegendimage{boxleg,fill=cB}\addlegendentry{W $\rightarrow$ e $\nu$}
\addlegendimage{boxleg,fill=cY}\addlegendentry{QCD}
\addlegendimage{boxleg,fill=cL}\addlegendentry{$\gamma$+jets}
\addlegendimage{boxleg,fill=cP}\addlegendentry{DY}
\addlegendimage{boxleg,fill=cC}\addlegendentry{t\ \={t}}
\addlegendimage{boxleg,fill=cG}\addlegendentry{EWK}
\addlegendimage{boxleg,fill=bandl}\addlegendentry{uncertainties}
\hist{\tC}{mc}{cB}\hist{\tC}{q}{cY}\hist{\tC}{g}{cL}\hist{\tC}{dy}{cP}\hist{\tC}{tt}{cC}\hist{\tC}{ew}{cG}
\mband{\tC}{3}
\dataplot{\tC}{3}{d}
\cmslabel
\end{axis}
\begin{axis}[ratioax,xsigw,at={(528.2pt,269.2pt)},width=181.25pt,height=53.9pt,
 xticklabels={0,50,100,150,200,250,300},xlabel={Significance}]
\ratioplots{\tC}{3}{300}
\end{axis}

% ---------- P4
\def\legh{3.2pt}
\begin{axis}[mainax,xprob,at={(35.75pt,79.5pt)},width=181.15pt,height=141.3pt,ymin=0,ymax=152,
 ytick={0,20,...,140},yticklabels={0,20,40,60,80,100,120,140},minor y tick num=3,
 legst=2.75pt,legend style={at={(rel axis cs:.528,.965)}}]
\addlegendimage{ptleg,black,mark=*,mark size=1.25pt,line width=.3pt}\addlegendentry{data}
\addlegendimage{boxleg,fill=cB}\addlegendentry{Z $\rightarrow$ $\mu$ $\mu$}
\addlegendimage{boxleg,fill=cY}\addlegendentry{t\ \={t}}
\addlegendimage{boxleg,fill=cP}\addlegendentry{EWK}
\addlegendimage{boxleg,fill=bandl}\addlegendentry{uncertainties}
\hist{\tD}{mc}{cB}
\hatchb{\tD}
\hist{\tD}{t}{cY}\hist{\tD}{ew}{cP}
\mband{\tD}{.01}
\dataplot{\tD}{.01}{d}
\cmslabel
\node[anchor=south west,inner sep=0pt,font=\tk] at (rel axis cs:0,1.008) {×10\textsuperscript{3}};
\end{axis}
\fill[white] (8pt,78pt) rectangle (35.5pt,73pt);
\begin{axis}[ratioax,xprob,xproblab,at={(35.75pt,22.9pt)},width=181.15pt,height=54pt,xlabel={$\chi$\textsuperscript{2} Probability}]
\ratioplots{\tD}{.01}{1}
\end{axis}

% ---------- P5
\def\legh{2.8pt}
\begin{axis}[mainax,xprob,at={(273.7pt,79.5pt)},width=181.3pt,height=141.3pt,ymin=0,ymax=500,
 ytick={0,100,...,500},yticklabels={0,100,200,300,400,500},minor y tick num=4,
 legst=2.5pt,legend style={at={(rel axis cs:.617,.92)}}]
\addlegendimage{ptleg,black,mark=*,mark size=1.25pt,line width=.3pt}\addlegendentry{data}
\addlegendimage{ptleg,red,mark=triangle*,mark size=1.35pt,line width=.3pt}\addlegendentry{data (FFT)}
\addlegendimage{boxleg,fill=cB}\addlegendentry{QCD}
\addlegendimage{boxleg,fill=cY}\addlegendentry{top}
\addlegendimage{boxleg,fill=cP}\addlegendentry{EWK}
\addlegendimage{boxleg,fill=cC}\addlegendentry{DY}
\addlegendimage{boxleg,fill=bandl}\addlegendentry{uncertainties}
\hist{\tE}{mc}{cB}
\hatchb{\tE}
\hist{\tE}{t}{cY}\hist{\tE}{ew}{cP}\hist{\tE}{dy}{cC}
\mband{\tE}{.01}
\dataplot{\tE}{.01}{d}
\fftplot{\tE}{.01}{f}
\cmslabel
\node[anchor=south west,inner sep=0pt,font=\tk] at (rel axis cs:0,1.008) {×10\textsuperscript{3}};
\end{axis}
\fill[white] (240pt,78pt) rectangle (273.45pt,73pt);
\begin{axis}[base,at={(294.25pt,165.8pt)},width=65.2pt,height=42.1pt,xmin=0,xmax=.1105,ymin=112,ymax=310,
 axis background/.style={fill=white},axis line style={line width=.5pt},
 tick label style={font=\sm,inner sep=1.4pt},
 xtick={0,.02,.04,.06,.08,.1},xticklabels={0,0.02,0.04,0.06,0.08,0.1},minor x tick num=3,
 ytick={150,200,250,300},yticklabels={150,200,250,300},minor y tick num=4,
 xtick style={/pgfplots/major tick length=2.2pt,/pgfplots/minor tick length=1.2pt},
 ytick style={/pgfplots/major tick length=2.2pt,/pgfplots/minor tick length=1.2pt}]
\addplot[const plot mark left,black,line width=1pt,forget plot] table[x=xl,y=y]{\tEi};
\addplot[only marks,mark=triangle*,mark size=1.2pt,red,forget plot] table[x=x,y=f]{\tEj};
\node[anchor=south west,inner sep=0pt,font=\sm] at (rel axis cs:0,1.02) {×10\textsuperscript{3}};
\end{axis}
\begin{axis}[ratioax,xprob,xproblab,at={(273.7pt,22.9pt)},width=181.3pt,height=54pt,xlabel={$\chi$\textsuperscript{2} Probability}]
\ratioplots{\tE}{.01}{1}
\end{axis}

% ---------- P6
\def\legh{2.45pt}
\begin{axis}[mainax,xprob,at={(528.35pt,79.5pt)},width=181.25pt,height=141.3pt,ymin=0,ymax=32.27,
 ytick={0,5,...,30},yticklabels={0,5,10,15,20,25,30},minor y tick num=4,
 legst=1.75pt,legend style={at={(rel axis cs:.683,.90)}}]
\addlegendimage{ptleg,black,mark=*,mark size=1.25pt,line width=.3pt}\addlegendentry{data}
\addlegendimage{boxleg,fill=cB}\addlegendentry{W $\rightarrow$ e $\nu$}
\addlegendimage{boxleg,fill=cY}\addlegendentry{QCD}
\addlegendimage{boxleg,fill=cL}\addlegendentry{$\gamma$+jets}
\addlegendimage{boxleg,fill=cP}\addlegendentry{DY}
\addlegendimage{boxleg,fill=cC}\addlegendentry{t\ \={t}}
\addlegendimage{boxleg,fill=cG}\addlegendentry{EWK}
\addlegendimage{boxleg,fill=bandl}\addlegendentry{uncertainties}
\hist{\tF}{mc}{cB}\hist{\tF}{q}{cY}\hist{\tF}{g}{cL}\hist{\tF}{dy}{cP}\hist{\tF}{tt}{cC}\hist{\tF}{ew}{cG}
\mband{\tF}{.01}
\dataplot{\tF}{.01}{d}
\cmslabel
\node[anchor=south west,inner sep=0pt,font=\tk] at (rel axis cs:0,1.008) {×10\textsuperscript{6}};
\end{axis}
\fill[white] (500pt,78pt) rectangle (528.1pt,73pt);
\begin{axis}[base,at={(548.6pt,103.55pt)},width=93.7pt,height=76.55pt,xmin=0,xmax=1,ymin=1e-6,ymax=40,ymode=log,
 axis background/.style={fill=white},
 tick label style={font=\smm,inner sep=1.6pt},
 xtick={0,.2,.4,.6,.8,1},xticklabels={0,0.2,0.4,0.6,0.8,1},minor x tick num=3,
 ytick={1e-6,1e-5,1e-4,1e-3,1e-2,1e-1,1,10},yticklabels={1,10,10\textsuperscript{2},10\textsuperscript{3},10\textsuperscript{4},10\textsuperscript{5},10\textsuperscript{6},10\textsuperscript{7}},
 xtick style={/pgfplots/major tick length=2.6pt,/pgfplots/minor tick length=1.4pt},
 ytick style={/pgfplots/major tick length=2.6pt,/pgfplots/minor tick length=1.4pt}]
\hist{\tF}{mc}{cB}\hist{\tF}{q}{cY}\hist{\tF}{g}{cL}\hist{\tF}{dy}{cP}\hist{\tF}{tt}{cC}\hist{\tF}{ew}{cG}
\dataplot{\tF}{.01}{d}
\end{axis}
\begin{axis}[ratioax,xprob,xproblab,at={(528.35pt,22.9pt)},width=181.25pt,height=54pt,xlabel={$\chi$\textsuperscript{2} Probability}]
\ratioplots{\tF}{.01}{1}
\end{axis}
\end{tikzpicture}
\end{document}
